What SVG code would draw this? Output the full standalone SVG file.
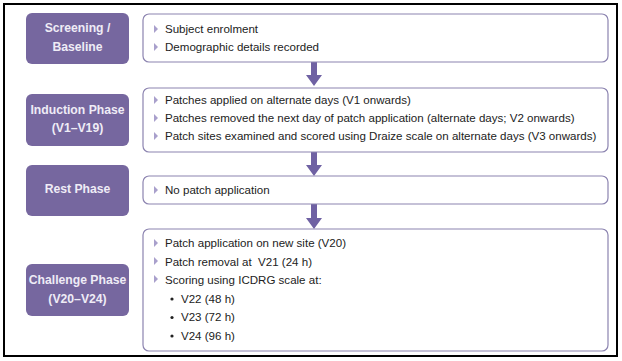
<svg xmlns="http://www.w3.org/2000/svg" width="622" height="361" viewBox="0 0 622 361">
<defs>
<style>
.phase{fill:#76679f;}
.ptxt{font-family:"Liberation Sans",Arial,sans-serif;font-weight:bold;font-size:12.2px;fill:#efecf6;text-anchor:middle;}
.box{fill:#ffffff;stroke:#8c84b0;stroke-width:1.2;}
.txt{font-family:"Liberation Sans",Arial,sans-serif;font-size:11.55px;fill:#222222;}
.tri{fill:#a9a0cc;}
.dot{fill:#222222;}
.arr{fill:#6f61a3;}
</style>
<path id="tr" d="M0,-4 L4,0 L0,4 Z"/>
</defs>
<rect x="0" y="0" width="622" height="361" fill="#ffffff"/>
<rect x="4" y="4" width="613" height="352" fill="none" stroke="#000000" stroke-width="2"/>

<g id="connectors">
<path class="arr" d="M311,62 h6 v13 h5 l-8,11 l-8,-11 h5 z"/>
<path class="arr" d="M311,152 h6 v13 h5 l-8,11 l-8,-11 h5 z"/>
<path class="arr" d="M311,204 h6 v14 h5 l-8,11 l-8,-11 h5 z"/>
</g>

<g id="screening">
<rect class="phase" x="26" y="13" width="103" height="51" rx="6"/>
<text class="ptxt" x="77.5" y="32">Screening /</text>
<text class="ptxt" x="77.5" y="51">Baseline</text>
</g>
<g id="screening-details">
<rect class="box" x="143" y="14" width="465" height="48" rx="6"/>
<use href="#tr" class="tri" x="154" y="29"/>
<use href="#tr" class="tri" x="154" y="47"/>
<text class="txt" x="165" y="33">Subject enrolment</text>
<text class="txt" x="165" y="51">Demographic details recorded</text>
</g>

<g id="induction">
<rect class="phase" x="26" y="94" width="103" height="52" rx="6"/>
<text class="ptxt" x="77.5" y="114">Induction Phase</text>
<text class="ptxt" x="77.5" y="132">(V1–V19)</text>
</g>
<g id="induction-details">
<rect class="box" x="143" y="88" width="465" height="64" rx="6"/>
<use href="#tr" class="tri" x="154" y="100"/>
<use href="#tr" class="tri" x="154" y="118"/>
<use href="#tr" class="tri" x="154" y="136"/>
<text class="txt" x="165" y="104">Patches applied on alternate days (V1 onwards)</text>
<text class="txt" x="165" y="122">Patches removed the next day of patch application (alternate days; V2 onwards)</text>
<text class="txt" x="165" y="140">Patch sites examined and scored using Draize scale on alternate days (V3 onwards)</text>
</g>

<g id="rest">
<rect class="phase" x="26" y="165" width="103" height="51" rx="6"/>
<text class="ptxt" x="77.5" y="193">Rest Phase</text>
</g>
<g id="rest-details">
<rect class="box" x="143" y="176" width="465" height="28" rx="6"/>
<use href="#tr" class="tri" x="154" y="190"/>
<text class="txt" x="165" y="194">No patch application</text>
</g>

<g id="challenge">
<rect class="phase" x="26" y="264" width="103" height="52" rx="6"/>
<text class="ptxt" x="77.5" y="284">Challenge Phase</text>
<text class="ptxt" x="77.5" y="303">(V20–V24)</text>
</g>
<g id="challenge-details">
<rect class="box" x="143" y="229" width="465" height="122" rx="6"/>
<use href="#tr" class="tri" x="154" y="243"/>
<use href="#tr" class="tri" x="154" y="261"/>
<use href="#tr" class="tri" x="154" y="279"/>
<text class="txt" x="165" y="247">Patch application on new site (V20)</text>
<text class="txt" x="165" y="265.5">Patch removal at &#160;V21 (24 h)</text>
<text class="txt" x="165" y="284">Scoring using ICDRG scale at:</text>
<circle class="dot" cx="172" cy="299" r="1.6"/>
<circle class="dot" cx="172" cy="317.5" r="1.6"/>
<circle class="dot" cx="172" cy="336" r="1.6"/>
<text class="txt" x="181" y="302.5">V22 (48 h)</text>
<text class="txt" x="181" y="321">V23 (72 h)</text>
<text class="txt" x="181" y="339.5">V24 (96 h)</text>
</g>
</svg>
